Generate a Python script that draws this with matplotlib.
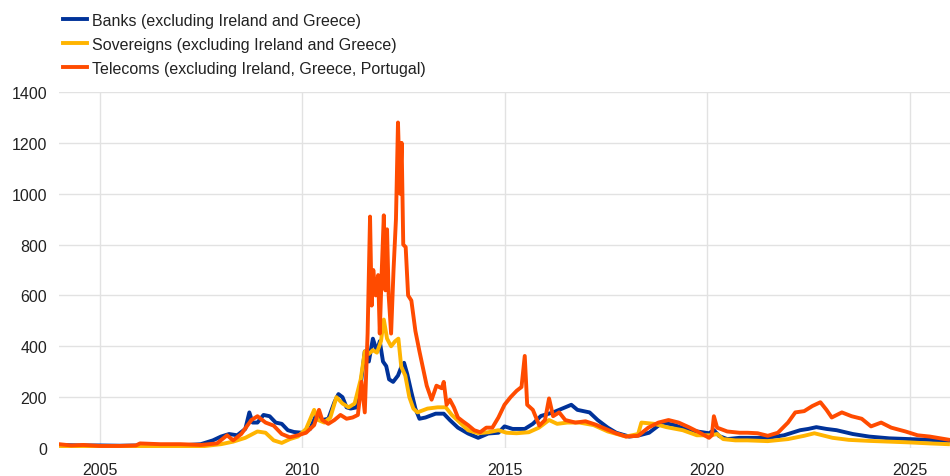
import matplotlib
matplotlib.use("Agg")
import matplotlib.pyplot as plt

# --- data (decimal years, basis points) ---
labels = ["Banks (excluding Ireland and Greece)",
          "Sovereigns (excluding Ireland and Greece)",
          "Telecoms (excluding Ireland, Greece, Portugal)"]
colors = ["#003299", "#ffb400", "#ff4b00"]

banks_x = [2004.0, 2004.5, 2005.0, 2005.5, 2006.0, 2006.5, 2007.0, 2007.5, 2007.8, 2008.0,
           2008.2, 2008.4, 2008.6, 2008.7, 2008.78, 2008.9, 2009.05, 2009.2, 2009.35, 2009.5,
           2009.65, 2009.8, 2010.0, 2010.2, 2010.35, 2010.5, 2010.65, 2010.8, 2010.9, 2011.0,
           2011.1, 2011.2, 2011.35, 2011.45, 2011.55, 2011.65, 2011.75, 2011.85, 2011.92, 2012.0,
           2012.08, 2012.15, 2012.25, 2012.37, 2012.46, 2012.52, 2012.6, 2012.7, 2012.8, 2012.9,
           2013.05, 2013.3, 2013.5, 2013.65, 2013.85, 2014.1, 2014.35, 2014.6, 2014.85, 2015.0,
           2015.2, 2015.5, 2015.7, 2015.9, 2016.2, 2016.35, 2016.65, 2016.8, 2017.1, 2017.3,
           2017.55, 2017.76, 2018.08, 2018.33, 2018.57, 2018.9, 2019.2, 2019.55, 2020.05, 2020.17,
           2020.3, 2020.5, 2020.8, 2021.5, 2021.9, 2022.3, 2022.5, 2022.7, 2022.95, 2023.2,
           2023.6, 2024.0, 2024.5, 2025.0, 2025.5, 2025.95]
banks_y = [12, 10, 10, 9, 10, 12, 10, 15, 30, 45,
           55, 50, 75, 140, 100, 100, 130, 125, 100, 95,
           70, 63, 60, 75, 130, 110, 115, 180, 212, 200,
           160, 155, 160, 250, 380, 340, 430, 380, 420, 340,
           322, 270, 260, 285, 322, 335, 290, 220, 155, 115,
           120, 135, 135, 110, 80, 57, 40, 57, 60, 85,
           75, 75, 95, 126, 140, 150, 170, 150, 140, 110,
           80, 60, 45, 50, 60, 100, 90, 70, 58, 70,
           47, 35, 40, 40, 50, 70, 75, 82, 75, 70,
           55, 45, 38, 35, 32, 28]

sov_x = [2004.0, 2004.5, 2005.0, 2005.5, 2006.0, 2006.5, 2007.0, 2007.5, 2008.0, 2008.3,
         2008.6, 2008.9, 2009.1, 2009.3, 2009.5, 2009.7, 2009.9, 2010.1, 2010.3, 2010.4,
         2010.55, 2010.7, 2010.85, 2011.0, 2011.15, 2011.3, 2011.45, 2011.55, 2011.65, 2011.75,
         2011.85, 2011.95, 2012.02, 2012.1, 2012.2, 2012.3, 2012.38, 2012.45, 2012.55, 2012.65,
         2012.75, 2012.85, 2013.1, 2013.35, 2013.55, 2013.7, 2013.9, 2014.1, 2014.35, 2014.6,
         2014.85, 2015.05, 2015.3, 2015.6, 2015.85, 2016.1, 2016.3, 2016.55, 2016.85, 2017.2,
         2017.55, 2018.0, 2018.3, 2018.38, 2018.7, 2019.0, 2019.4, 2019.75, 2020.1, 2020.25,
         2020.4, 2020.7, 2021.0, 2021.5, 2022.0, 2022.4, 2022.65, 2022.85, 2023.1, 2023.5,
         2024.0, 2024.5, 2025.0, 2025.5, 2025.95]
sov_y = [8, 6, 5, 5, 5, 6, 5, 6, 15, 25,
         40, 65, 60, 30, 20, 35, 45, 75, 150, 110,
         100, 120, 200, 175, 160, 175, 270, 380, 370, 385,
         375, 420, 505, 430, 400, 420, 430, 320, 285, 200,
         155, 140, 155, 160, 160, 130, 100, 70, 58, 62,
         70, 60, 58, 62, 80, 110, 95, 100, 100, 90,
         65, 45, 55, 100, 95, 82, 70, 50, 50, 55,
         35, 30, 30, 27, 35, 48, 58, 50, 40, 32,
         28, 25, 22, 18, 15]

tel_x = [2004.0, 2004.3, 2004.6, 2005.0, 2005.5, 2005.9, 2006.0, 2006.5, 2007.0, 2007.5,
         2007.9, 2008.15, 2008.3, 2008.5, 2008.75, 2008.9, 2009.1, 2009.3, 2009.5, 2009.7,
         2009.9, 2010.1, 2010.3, 2010.42, 2010.5, 2010.65, 2010.8, 2010.95, 2011.1, 2011.25,
         2011.38, 2011.47, 2011.55, 2011.62, 2011.68, 2011.72, 2011.76, 2011.82, 2011.88, 2011.92,
         2011.97, 2012.02, 2012.06, 2012.1, 2012.14, 2012.2, 2012.26, 2012.32, 2012.37, 2012.42,
         2012.46, 2012.5, 2012.56, 2012.62, 2012.7, 2012.8, 2012.9, 2012.98, 2013.08, 2013.2,
         2013.32, 2013.45, 2013.5, 2013.57, 2013.65, 2013.75, 2013.85, 2013.97, 2014.1, 2014.25,
         2014.4, 2014.55, 2014.7, 2014.85, 2015.0, 2015.15, 2015.3, 2015.42, 2015.5, 2015.56,
         2015.7, 2015.86, 2016.0, 2016.1, 2016.2, 2016.35, 2016.5, 2016.75, 2017.0, 2017.25,
         2017.5, 2017.75, 2018.0, 2018.3, 2018.55, 2018.8, 2019.05, 2019.3, 2019.55, 2019.8,
         2020.05, 2020.12, 2020.17, 2020.25, 2020.5, 2020.8, 2021.0, 2021.25, 2021.5, 2021.75,
         2022.0, 2022.18, 2022.4, 2022.6, 2022.8, 2022.95, 2023.08, 2023.33, 2023.57, 2023.82,
         2024.05, 2024.3, 2024.55, 2024.9, 2025.2, 2025.5, 2025.95]
tel_y = [15, 10, 12, 8, 8, 10, 18, 15, 15, 12,
         18, 50, 30, 55, 110, 125, 100, 88, 55, 42,
         50, 60, 90, 150, 110, 95, 110, 130, 115, 120,
         130, 260, 140, 450, 910, 560, 700, 600, 680, 450,
         700, 915, 620, 860, 600, 450, 700, 900, 1280, 1000,
         1200, 800, 790, 600, 580, 460, 380, 320, 245, 190,
         245, 235, 260, 170, 190, 160, 120, 105, 90, 70,
         62, 80, 80, 120, 170, 200, 225, 240, 362, 170,
         150, 88, 110, 195, 125, 140, 110, 100, 105, 92,
         75, 58, 45, 48, 80, 100, 110, 100, 82, 62,
         40, 50, 125, 80, 65, 60, 60, 58, 48, 60,
         100, 140, 145, 165, 180, 150, 120, 140, 125, 115,
         85, 100, 80, 65, 50, 45, 33]

year_ticks = [2005, 2010, 2015, 2020, 2025]
value_ticks = [0, 200, 400, 600, 800, 1000, 1200, 1400]

plt.rcParams["font.family"] = ["Liberation Sans", "DejaVu Sans"]

fig = plt.figure(figsize=(9.5, 4.77), dpi=100)
ax = fig.add_axes([59 / 950, 1 - 449 / 477, 891 / 950, 356 / 477])

series = [(banks_x, banks_y), (sov_x, sov_y), (tel_x, tel_y)]
for (xs, ys), lab, col in zip(series, labels, colors):
    ax.plot(xs, ys, color=col, lw=2.8, label=lab, solid_joinstyle="round")

ax.set_xlim(2004.0, 2026.0)
ax.set_ylim(0, 1400)
ax.set_xticks(year_ticks)
ax.set_yticks(value_ticks)
ax.grid(True, color="#e2e2e2", lw=1)
ax.set_axisbelow(True)
for s in ax.spines.values():
    s.set_visible(False)
ax.tick_params(length=0, labelsize=11.5, colors="#222222")
ax.tick_params(axis="x", pad=10)
ax.tick_params(axis="y", pad=8.5)

fig.legend(loc="upper left", bbox_to_anchor=(63 / 950, 1 - 14 / 477), frameon=False,
           fontsize=11.5, handlelength=1.5, handletextpad=0.3, labelspacing=0.56,
           borderpad=0, borderaxespad=0, labelcolor="#222222")

fig.savefig("out.png", dpi=100)
